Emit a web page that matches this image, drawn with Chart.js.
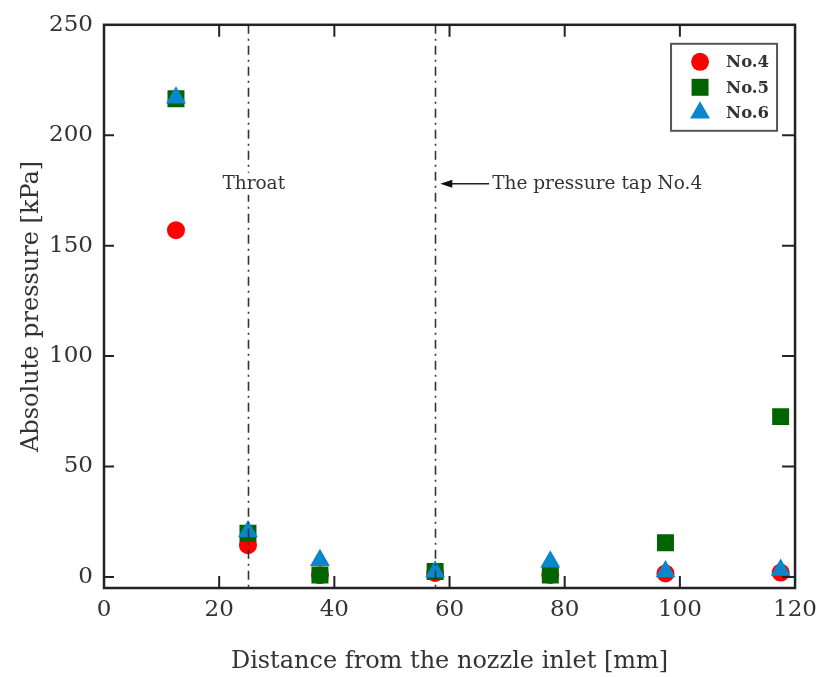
<!DOCTYPE html>
<html><head><meta charset="utf-8">
<script src="https://cdn.jsdelivr.net/npm/chart.js@4.4.1/dist/chart.umd.min.js"></script>
<style>html,body{margin:0;padding:0;background:#fff;}#wrap{width:825px;height:677px;position:relative;}</style>
</head><body><div id="wrap"><canvas id="c"></canvas></div>
<script>
// ---- data ----
const distances = [12.5, 25, 37.5, 57.5, 77.5, 97.5, 117.5];
const no4 = [157, 14.4, 0.8, 1.8, 0.9, 1.6, 2.0];
const no5 = [216.5, 19.8, 0.9, 2.5, 0.9, 15.5, 72.6];
const no6 = [217, 20.6, 7.6, 2.4, 6.9, 2.5, 3.2];
const seriesLabels = ['No.4', 'No.5', 'No.6'];
const xTicks = [0, 20, 40, 60, 80, 100, 120];
const yTicks = [0, 50, 100, 150, 200, 250];
const guideLines = [25, 57.5];
const notes = [
  {text: 'Throat', x: 26, y: 178, align: 'center', bg: true},
  {text: 'The pressure tap No.4', x: 67.4, y: 178, align: 'left', arrowTo: 58.4}
];
const xTitle = 'Distance from the nozzle inlet [mm]';
const yTitle = 'Absolute pressure [kPa]';

const SERIF = '"DejaVu Serif", serif';
const pts = (ys) => distances.map((x, i) => ({x, y: ys[i]}));

const styles = [
  {color: '#ff0000', pointStyle: 'circle', radius: 9},
  {color: '#006400', pointStyle: 'rect', radius: 12},
  {color: '#0a86cc', pointStyle: 'triangle', radius: 11.5}
];
const seriesData = [no4, no5, no6];

const datasets = seriesData.map((ys, i) => ({
  label: seriesLabels[i],
  data: pts(ys),
  showLine: false,
  pointStyle: styles[i].pointStyle,
  pointRadius: styles[i].radius,
  pointHoverRadius: styles[i].radius,
  backgroundColor: styles[i].color,
  borderColor: styles[i].color,
  borderWidth: 0,
  order: 2 - i
}));

function drawMarker(ctx, st, x, y) {
  if (Chart.helpers && Chart.helpers.drawPoint) {
    ctx.save();
    ctx.fillStyle = st.color; ctx.strokeStyle = st.color; ctx.lineWidth = 0;
    Chart.helpers.drawPoint(ctx, {pointStyle: st.pointStyle, radius: st.radius, rotation: 0, borderWidth: 0}, x, y);
    ctx.restore();
  }
}

const framePlugin = {
  id: 'frame',
  afterDatasetsDraw(chart) {
    const {ctx, chartArea: a, scales: {x, y}} = chart;
    ctx.save();
    // guide lines (dash-dot)
    ctx.strokeStyle = '#333';
    ctx.lineWidth = 1.6;
    ctx.setLineDash([9, 5, 2, 5]);
    guideLines.forEach(v => {
      const px = Math.round(x.getPixelForValue(v)) + 0.5;
      ctx.beginPath(); ctx.moveTo(px, a.top); ctx.lineTo(px, a.bottom); ctx.stroke();
    });
    ctx.setLineDash([]);
    // notes
    ctx.font = '18.5px ' + SERIF;
    ctx.textBaseline = 'middle';
    notes.forEach(n => {
      const px = x.getPixelForValue(n.x), py = y.getPixelForValue(n.y);
      ctx.textAlign = n.align;
      const w = ctx.measureText(n.text).width;
      if (n.bg) {
        ctx.fillStyle = '#fff';
        const lx = n.align === 'center' ? px - w / 2 : px;
        ctx.fillRect(lx - 1, py - 11, w + 2, 22);
      }
      ctx.fillStyle = '#333';
      ctx.fillText(n.text, px, py);
      if (n.arrowTo !== undefined) {
        const tx = x.getPixelForValue(n.arrowTo);
        ctx.strokeStyle = '#222'; ctx.lineWidth = 1.5;
        ctx.beginPath(); ctx.moveTo(px - 3, py); ctx.lineTo(tx + 8, py); ctx.stroke();
        ctx.fillStyle = '#111';
        ctx.beginPath(); ctx.moveTo(tx, py); ctx.lineTo(tx + 12, py - 4); ctx.lineTo(tx + 12, py + 4); ctx.closePath(); ctx.fill();
      }
    });
    // frame
    ctx.strokeStyle = '#222';
    ctx.lineWidth = 2.5;
    ctx.strokeRect(a.left, a.top, a.right - a.left, a.bottom - a.top);
    // inward ticks
    ctx.lineWidth = 2;
    const tlx = 12, tly = 10;
    xTicks.forEach(v => {
      if (v === xTicks[0] || v === xTicks[xTicks.length - 1]) return;
      const px = x.getPixelForValue(v);
      ctx.beginPath();
      ctx.moveTo(px, a.bottom); ctx.lineTo(px, a.bottom - tlx);
      ctx.moveTo(px, a.top); ctx.lineTo(px, a.top + tlx);
      ctx.stroke();
    });
    yTicks.forEach(v => {
      const py = y.getPixelForValue(v);
      if (Math.abs(py - a.top) < 2) return;
      ctx.beginPath();
      ctx.moveTo(a.left, py); ctx.lineTo(a.left + tly, py);
      ctx.moveTo(a.right, py); ctx.lineTo(a.right - tly - 3, py);
      ctx.stroke();
    });
    // legend box
    const lx = a.right - 124, ly = a.top + 19, lw = 106, lh = 87;
    ctx.strokeStyle = '#555'; ctx.lineWidth = 2;
    ctx.strokeRect(lx, ly, lw, lh);
    ctx.font = 'bold 16.5px ' + SERIF;
    ctx.textAlign = 'left'; ctx.textBaseline = 'middle';
    chart.data.datasets.forEach((ds, i) => {
      const cy = ly + 18 + i * 25.5;
      drawMarker(ctx, styles[i], lx + 29, cy);
      ctx.fillStyle = '#333';
      ctx.fillText(ds.label, lx + 55, cy + 1);
    });
    ctx.restore();
  }
};

new Chart(document.getElementById('c'), {
  type: 'scatter',
  data: {datasets},
  options: {
    responsive: true,
    maintainAspectRatio: false,
    animation: false,
    layout: {padding: {left: 0, right: 28, top: 22, bottom: 0}},
    plugins: {legend: {display: false}, tooltip: {enabled: false}},
    scales: {
      x: {
        type: 'linear', min: 0, max: 120,
        grid: {display: false, drawTicks: false},
        border: {display: false},
        afterBuildTicks: s => { s.ticks = xTicks.map(v => ({value: v})); },
        afterFit: s => { s.height = 89; },
        ticks: {color: '#333', padding: 8, font: {family: SERIF, size: 23}, maxRotation: 0, autoSkip: false},
        title: {display: true, text: xTitle, color: '#333', font: {family: SERIF, size: 24}, padding: {top: 0, bottom: 1}}
      },
      y: {
        type: 'linear', min: -5, max: 250,
        grid: {display: false, drawTicks: false},
        border: {display: false},
        afterBuildTicks: s => { s.ticks = yTicks.map(v => ({value: v})); },
        afterFit: s => { s.width = 104; },
        ticks: {color: '#333', padding: 11, font: {family: SERIF, size: 23}, autoSkip: false},
        title: {display: true, text: yTitle, color: '#333', font: {family: SERIF, size: 24}, padding: {top: 17, bottom: 0}}
      }
    }
  },
  plugins: [framePlugin]
});
</script>
</body></html>
